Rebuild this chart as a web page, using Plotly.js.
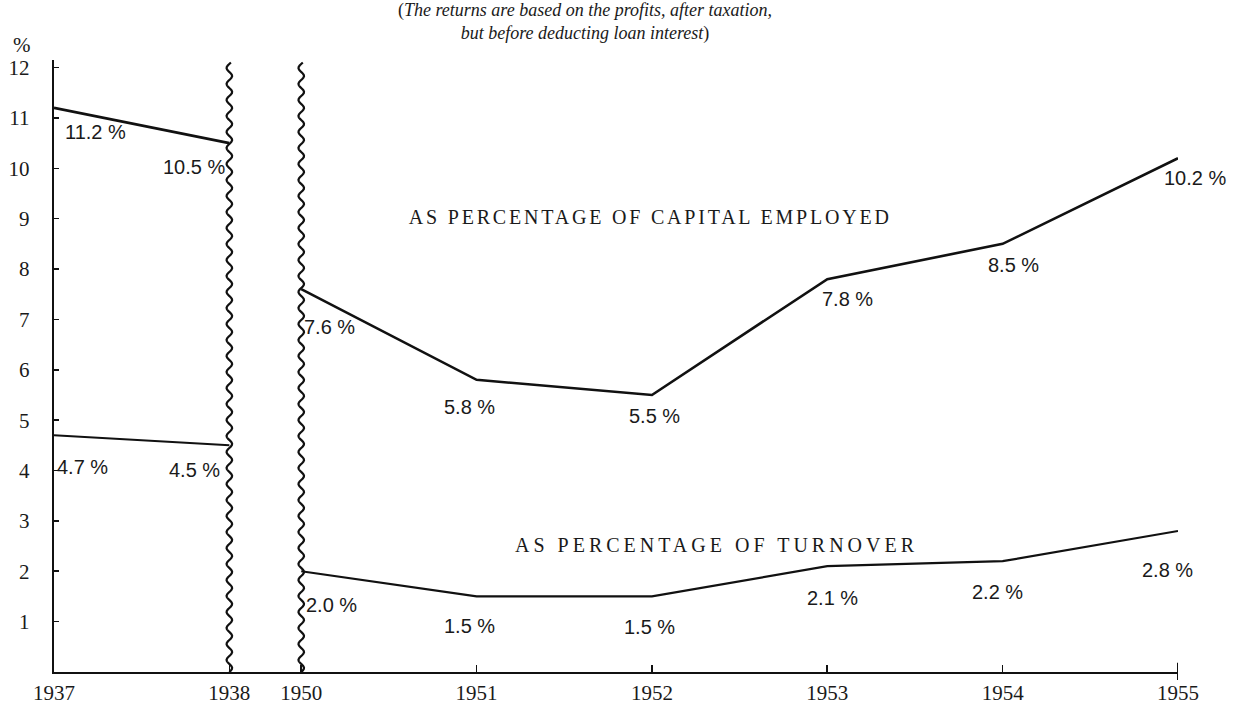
<!DOCTYPE html>
<html>
<head>
<meta charset="utf-8">
<script src="https://cdn.plot.ly/plotly-3.0.1.min.js"></script>
<style>
  html, body { margin: 0; padding: 0; background: #ffffff; }
  #chart { width: 1241px; height: 716px; }
</style>
</head>
<body>
<div id="chart"></div>
<script>
// ---------------- DATA ----------------
const years = ['1937', '1938', '1950', '1951', '1952', '1953', '1954', '1955'];
const capitalEmployed = [11.2, 10.5, 7.6, 5.8, 5.5, 7.8, 8.5, 10.2];
const turnover = [4.7, 4.5, 2.0, 1.5, 1.5, 2.1, 2.2, 2.8];
const capitalLabels = ['11.2 %', '10.5 %', '7.6 %', '5.8 %', '5.5 %', '7.8 %', '8.5 %', '10.2 %'];
const turnoverLabels = ['4.7 %', '4.5 %', '2.0 %', '1.5 %', '1.5 %', '2.1 %', '2.2 %', '2.8 %'];
const yTicks = [1, 2, 3, 4, 5, 6, 7, 8, 9, 10, 11, 12];
const seriesNames = ['AS PERCENTAGE OF CAPITAL EMPLOYED', 'AS PERCENTAGE OF TURNOVER'];
const subtitleLines = ['(<i>The returns are based on the profits, after taxation,</i>', '<i>but before deducting loan interest</i>)'];
const unitLabel = '%';

// ---------------- LAYOUT HELPERS ----------------
const GAP = 0.41;           // visual width of the break between 1938 and 1950
const breakAfter = 1;       // index of 1938
const xpos = years.map((y, i) => i > breakAfter ? i - 1 + GAP : i);
const YMAX = 12.15;
const XMAX = xpos[xpos.length - 1];
const PX_X = 1124 / XMAX;
const PX_Y = 612 / YMAX;

// label pixel offsets (ax, ay) relative to each point
const capOffsets = [[41, 24], [-35, 24], [28, 38], [-7, 27], [3, 21], [20, 20], [11, 21], [17, 20]];
const turOffsets = [[28, 32], [-35, 25], [30, 34], [-7, 30], [-2, 31], [5, 32], [-5, 31], [-11, 39]];

const serif = '"Liberation Serif", "DejaVu Serif", serif';
const sans = '"Liberation Sans", Arial, sans-serif';

function segTrace(xs, ys, width) {
  return { x: xs, y: ys, type: 'scatter', mode: 'lines',
           line: { color: '#111', width: width, shape: 'linear' },
           hoverinfo: 'skip', showlegend: false, cliponaxis: false };
}

const traces = [
  segTrace(xpos.slice(0, 2), capitalEmployed.slice(0, 2), 2.6),
  segTrace(xpos.slice(2), capitalEmployed.slice(2), 2.6),
  segTrace(xpos.slice(0, 2), turnover.slice(0, 2), 2.0),
  segTrace(xpos.slice(2), turnover.slice(2), 2.2)
];

// wavy break lines
function wavyPath(xc) {
  const ampX = 2.8 / PX_X;       // ~2.8 px
  const period = 16 / PX_Y;      // ~16 px
  let d = '';
  const steps = 400;
  const yTop = 12.1;
  for (let k = 0; k <= steps; k++) {
    const yy = yTop * k / steps;
    const xx = xc + ampX * Math.sin(2 * Math.PI * yy / period);
    d += (k === 0 ? 'M' : 'L') + xx.toFixed(5) + ',' + yy.toFixed(4);
  }
  return d;
}
const shapes = [
  { type: 'path', xref: 'x', yref: 'y', path: wavyPath(xpos[breakAfter]), line: { color: '#111', width: 2.2 } },
  { type: 'path', xref: 'x', yref: 'y', path: wavyPath(xpos[breakAfter + 1]), line: { color: '#111', width: 2.2 } },
  // end tick at 1955 crossing the axis
  { type: 'line', xref: 'x', yref: 'paper', x0: XMAX, x1: XMAX, y0: -0.013, y1: 0.015, line: { color: '#111', width: 2 } }
];

const annotations = [];
function addLabels(vals, labels, offs) {
  vals.forEach((v, i) => {
    annotations.push({ x: xpos[i], y: v, xref: 'x', yref: 'y', text: labels[i],
      showarrow: true, arrowcolor: 'rgba(0,0,0,0)', arrowwidth: 0.1,
      ax: offs[i][0], ay: offs[i][1], xanchor: 'center', yanchor: 'middle',
      font: { family: sans, size: 20, color: '#1a1a1a' } });
  });
}
addLabels(capitalEmployed, capitalLabels, capOffsets);
addLabels(turnover, turnoverLabels, turOffsets);

annotations.push({ xref: 'paper', yref: 'paper', x: (650 - 54) / 1124, y: (672 - 217) / 612,
  text: seriesNames[0], showarrow: false, xanchor: 'center', yanchor: 'middle',
  font: { family: serif, size: 20, color: '#1a1a1a' } });
annotations.push({ xref: 'paper', yref: 'paper', x: (717 - 54) / 1124, y: (672 - 545) / 612,
  text: seriesNames[1], showarrow: false, xanchor: 'center', yanchor: 'middle',
  font: { family: serif, size: 20, color: '#1a1a1a' } });
annotations.push({ xref: 'paper', yref: 'paper', x: (585 - 54) / 1124, y: (672 - 22) / 612,
  text: subtitleLines.join('<br>'), showarrow: false, xanchor: 'center', yanchor: 'middle',
  font: { family: serif, size: 18, color: '#1a1a1a' } });
annotations.push({ xref: 'paper', yref: 'paper', x: (22 - 54) / 1124, y: (672 - 45) / 612,
  text: unitLabel, showarrow: false, xanchor: 'center', yanchor: 'middle',
  font: { family: serif, size: 21, color: '#1a1a1a' } });

const layout = {
  width: 1241, height: 716,
  margin: { l: 54, r: 63, t: 60, b: 44, pad: 0 },
  paper_bgcolor: '#ffffff', plot_bgcolor: '#ffffff',
  showlegend: false,
  xaxis: {
    range: [0, XMAX], tickmode: 'array', tickvals: xpos, ticktext: years,
    showgrid: false, zeroline: false, showline: true, linecolor: '#111', linewidth: 2.2,
    ticks: 'inside', ticklen: 7, tickwidth: 1.6, tickcolor: '#111',
    tickfont: { family: serif, size: 21, color: '#1a1a1a' }, ticklabelstandoff: 1,
    fixedrange: true
  },
  yaxis: {
    range: [0, YMAX], tickmode: 'array', tickvals: yTicks, ticktext: yTicks.map(String),
    showgrid: false, zeroline: false, showline: true, linecolor: '#111', linewidth: 2.2,
    ticks: 'inside', ticklen: 5, tickwidth: 1.6, tickcolor: '#111',
    tickfont: { family: serif, size: 21, color: '#1a1a1a' }, ticklabelstandoff: 18,
    fixedrange: true
  },
  shapes: shapes,
  annotations: annotations
};

Plotly.newPlot('chart', traces, layout, { displayModeBar: false, staticPlot: true }).then(() => {
  document.querySelectorAll('.annotation-text').forEach(t => {
    const s = t.textContent;
    if (s === seriesNames[0]) t.style.letterSpacing = '2.8px';
    if (s === seriesNames[1]) t.style.letterSpacing = '4px';
  });
});
</script>
</body>
</html>
